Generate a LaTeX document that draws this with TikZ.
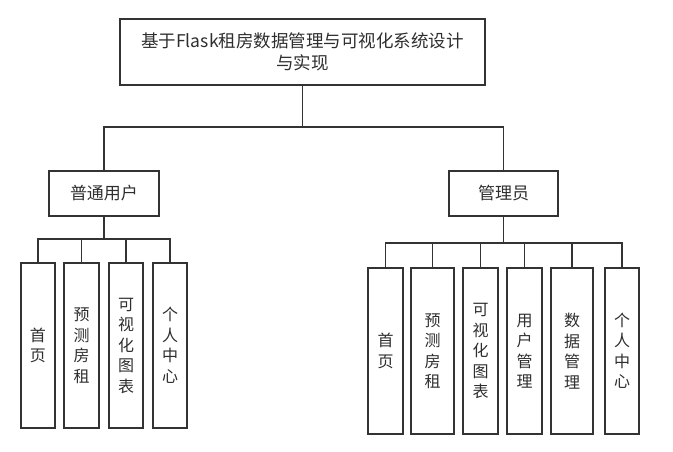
\documentclass[tikz,border=0pt]{standalone}
\usepackage{fontspec}
\setmainfont{Noto Sans CJK SC}
\begin{document}
\begin{tikzpicture}[x=1pt,y=-1pt,
  box/.style={draw=black!80, line width=1.6pt, inner sep=0pt, align=center, text=black!82},
  leaf/.style={box, minimum height=165, font=\fontsize{16}{20.5}\selectfont},
  mid/.style={box, minimum height=45, font=\fontsize{17}{20}\selectfont},
  conn/.style={draw=black!80, line width=1.3pt}]
\useasboundingbox (0,0) rectangle (673,451);
\node[box, minimum width=365, minimum height=66, font=\fontsize{17.5}{22}\selectfont] (top) at (302.5,52) {基于Flask租房数据管理与可视化系统设计\\与实现};
\node[mid, minimum width=110] (user) at (104,193.5) {普通用户};
\node[mid, minimum width=109] (admin) at (503.5,193.5) {管理员};
% left leaves
\node[leaf, minimum width=34] (l1) at (38,345.5) {首\\页};
\node[leaf, minimum width=35] (l2) at (81.5,345.5) {预\\测\\房\\租};
\node[leaf, minimum width=34] (l3) at (126,345.5) {可\\视\\化\\图\\表};
\node[leaf, minimum width=34] (l4) at (170,345.5) {个\\人\\中\\心};
% right leaves
\node[leaf, minimum width=35, minimum height=166] (r1) at (385.5,351) {首\\页};
\node[leaf, minimum width=43, minimum height=166] (r2) at (432.5,351) {预\\测\\房\\租};
\node[leaf, minimum width=35, minimum height=166] (r3) at (480.5,351) {可\\视\\化\\图\\表};
\node[leaf, minimum width=35, minimum height=166] (r4) at (524.5,351) {用\\户\\管\\理};
\node[leaf, minimum width=42, minimum height=166] (r5) at (572,351) {数\\据\\管\\理};
\node[leaf, minimum width=34, minimum height=166] (r6) at (622,351) {个\\人\\中\\心};
% bus points
\coordinate (b0) at (302.5,127);
\coordinate (b1) at (104,239);
\coordinate (b2) at (503.5,243);
\draw[conn] (top.south) -- (b0);
\draw[conn] (b0) -| (user.north);
\draw[conn] (b0) -| (admin.north);
\draw[conn] (user.south) -- (b1);
\foreach \n in {l1,l2,l3,l4} \draw[conn] (b1) -| (\n.north);
\draw[conn] (admin.south) -- (b2);
\foreach \n in {r1,r2,r3,r4,r5,r6} \draw[conn] (b2) -| (\n.north);
\end{tikzpicture}
\end{document}
